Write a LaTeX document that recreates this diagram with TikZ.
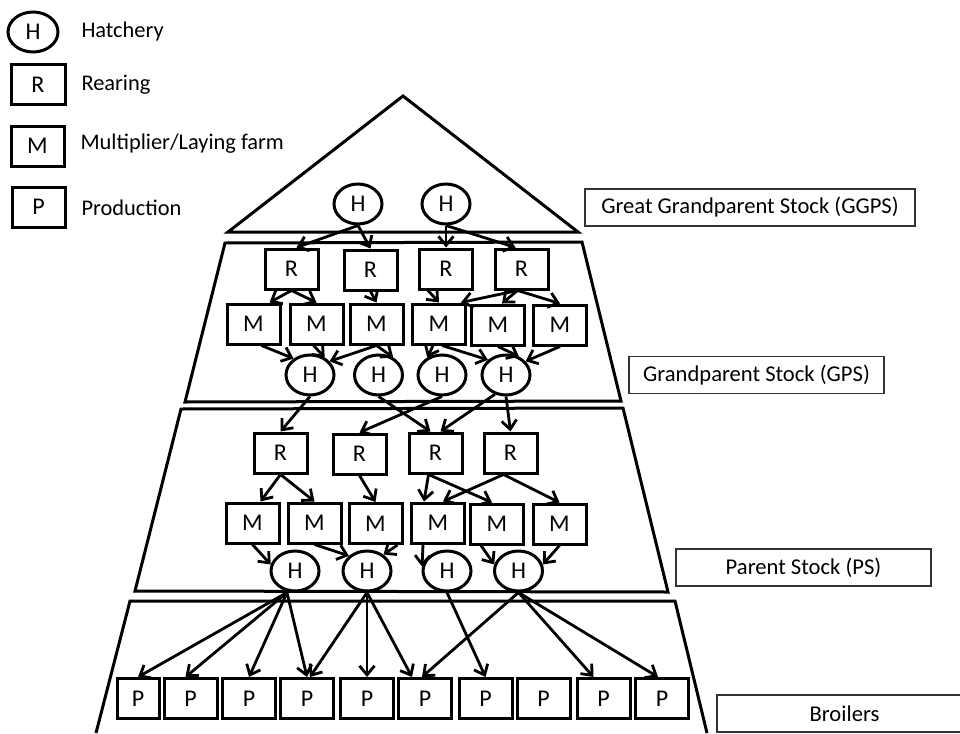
\documentclass[tikz,border=0pt]{standalone}
\usepackage{fontspec}
\setmainfont{Carlito}
\usetikzlibrary{shapes.geometric,arrows.meta}

\begin{document}
\begin{tikzpicture}[
  x=1pt, y=-1pt, line width=3pt,
  farm/.style={draw, rectangle, minimum width=53pt, minimum height=40pt,
               inner sep=0pt, font=\fontsize{24}{28}\selectfont},
  hatch/.style={draw, ellipse, minimum width=48pt, minimum height=40pt,
                inner sep=0pt, font=\fontsize{24}{28}\selectfont},
  tag/.style={draw=black!80, line width=1.2pt, minimum width=255pt,
              minimum height=37pt, inner sep=0pt, font=\fontsize{22.6}{26}\selectfont},
  legtxt/.style={anchor=base west, inner sep=0pt, font=\fontsize{22.4}{26}\selectfont},
  arr/.style={-{Straight Barb[length=9pt,width=15pt]}, line width=2.8pt}
]
\useasboundingbox (0,0) rectangle (960,733);
\clip (0,0) rectangle (960,733);

% legend
\node[hatch, minimum width=50pt] (legh) at (33,32) {H};
\node[farm, minimum width=54pt] (legr) at (38,85) {R};
\node[farm] (legm) at (37.5,146) {M};
\node[farm] (legp) at (38.5,207) {P};
\node[legtxt] (txth) at (80,38) {Hatchery};
\node[legtxt] (txtr) at (80,91) {Rearing};
\node[legtxt] (txtm) at (79,149) {Multiplier/Laying farm};
\node[legtxt] (txtp) at (80,215) {Production};

% tiers
\draw (403,96) -- (578,232) -- (228,232) -- cycle;
\draw (225,243) -- (582,242) -- (621,401) -- (185,402) -- cycle;
\draw (181,409) -- (623,408) -- (668,592) -- (135,591) -- cycle;
\draw (96,733) -- (130,601) -- (675,601) -- (707,733);

% great grandparents
\node[hatch] (gg1) at (358,204) {H};
\node[hatch] (gg2) at (446,204) {H};

% grandparents
\node[farm] (gr1) at (291.5,269) {R};
\node[farm] (gr2) at (370.5,270) {R};
\node[farm] (gr3) at (446,269) {R};
\node[farm] (gr4) at (521.5,269) {R};
\node[farm] (gm1) at (253.5,324) {M};
\node[farm] (gm2) at (316.5,324) {M};
\node[farm] (gm3) at (376.5,324) {M};
\node[farm] (gm4) at (439,324) {M};
\node[farm] (gm5) at (498,325) {M};
\node[farm] (gm6) at (560,325) {M};
\node[hatch] (gh1) at (310,375) {H};
\node[hatch] (gh2) at (378.5,375) {H};
\node[hatch] (gh3) at (442,375) {H};
\node[hatch] (gh4) at (506,375) {H};

% parents
\node[farm] (pr1) at (280.5,453) {R};
\node[farm] (pr2) at (359.5,454) {R};
\node[farm] (pr3) at (435.5,453) {R};
\node[farm] (pr4) at (510.5,453) {R};
\node[farm] (pm1) at (252.5,523) {M};
\node[farm] (pm2) at (314.5,523) {M};
\node[farm] (pm3) at (375.5,523.5) {M};
\node[farm] (pm4) at (438,523) {M};
\node[farm] (pm5) at (497,524) {M};
\node[farm] (pm6) at (559.5,524) {M};
\node[hatch] (ph1) at (295,571) {H};
\node[hatch] (ph2) at (367,571) {H};
\node[hatch] (ph3) at (447,571) {H};
\node[hatch] (ph4) at (518.5,571) {H};

% broilers
\node[farm, minimum width=42pt] (p1) at (138,698.5) {P};
\node[farm] (p2) at (190.5,698.5) {P};
\node[farm] (p3) at (249,698.5) {P};
\node[farm] (p4) at (307,698.5) {P};
\node[farm] (p5) at (367,698.5) {P};
\node[farm] (p6) at (425,698.5) {P};
\node[farm] (p7) at (485.5,698.5) {P};
\node[farm] (p8) at (543.5,698.5) {P};
\node[farm] (p9) at (603.5,698.5) {P};
\node[farm] (p10) at (662,698.5) {P};

% stage labels
\node[tag, minimum width=330pt] (lggps) at (750,207.5) {Great Grandparent Stock (GGPS)};
\node[tag] (lgps) at (756.5,375) {Grandparent Stock (GPS)};
\node[tag] (lps) at (803.5,567.5) {Parent Stock (PS)};
\node[tag] (lbro) at (844.5,713.5) {Broilers};

% GGPS -> GPS
\draw[arr] (gg1.south) -- ([xshift=5]gr1.north);
\draw[arr] (gg1.south) -- (gr2.north);
\draw[arr] (gg2.south) -- (gr3.north);
\draw[arr] (gg2.south) -- ([xshift=-6]gr4.north);

\draw[arr] (gr1.south) -- ([xshift=16]gm1.north);
\draw[arr] (gr1.south) -- (gm2.north);
\draw[arr] (gr2.south) -- (gm3.north);
\draw[arr] ([xshift=-18]gr3.south) -- (gm4.north);
\draw[arr] ([xshift=-4]gr4.south) -- ([xshift=22]gm4.north);
\draw[arr] ([xshift=-4]gr4.south) -- ([xshift=4]gm5.north);
\draw[arr] ([xshift=-4]gr4.south) -- (gm6.north);

\draw[arr] ([xshift=8]gm1.south) -- (gh1.135);
\draw[arr] ([xshift=-3]gm2.south) -- (gh1.50);
\draw[arr] (gm3.south) -- (gh1.35);
\draw[arr] (gm3.south) -- (gh2.50);
\draw[arr] ([xshift=-6]gm4.south) -- (gh3.130);
\draw[arr] ([xshift=3]gm4.south) -- (gh4.140);
\draw[arr] (gm5.south) -- (gh4.55);
\draw[arr] (gm6.south) -- (gh4.35);

% GPS -> PS
\draw[arr] (gh1.south) -- (pr1.north);
\draw[arr] (gh2.south) -- ([xshift=-5]pr3.north);
\draw[arr] (gh3.south) -- (pr2.north);
\draw[arr] (gh4.240) -- ([xshift=5]pr3.north);
\draw[arr] (gh4.south) -- (pr4.north);

\draw[arr] (pr1.south) -- ([xshift=8]pm1.north);
\draw[arr] (pr1.south) -- (pm2.north);
\draw[arr] (pr2.south) -- (pm3.north);
\draw[arr] ([xshift=-7]pr3.south) -- ([xshift=-14]pm4.north);
\draw[arr] ([xshift=-7]pr3.south) -- ([xshift=-5]pm5.north);
\draw[arr] ([xshift=-7]pr4.south) -- ([xshift=5]pm4.north);
\draw[arr] ([xshift=-7]pr4.south) -- (pm6.north);

\draw[arr] (pm1.south) -- (ph1.165);
\draw[arr] (pm2.south) -- (ph2.140);
\draw[arr] ([xshift=22]pm3.south) -- (ph2.45);
\draw[arr] ([xshift=-15]pm4.south) -- (ph3.170);
\draw[arr] ([xshift=-16]pm5.south) -- (ph4.165);
\draw[arr] (pm6.south) -- (ph4.15);

% PS -> broilers
\draw[arr] ([xshift=-8]ph1.south) -- (p1.north);
\draw[arr] ([xshift=-8]ph1.south) -- ([xshift=-5]p2.north);
\draw[arr] ([xshift=-8]ph1.south) -- (p3.north);
\draw[arr] ([xshift=-8]ph1.south) -- (p4.north);
\draw[arr] (ph2.south) -- ([xshift=3]p4.north);
\draw[arr] (ph2.south) -- (p5.north);
\draw[arr] (ph2.south) -- ([xshift=-13]p6.north);
\draw[arr] (ph3.south) -- (p7.north);
\draw[arr] (ph4.south) -- ([xshift=-3]p6.north);
\draw[arr] (ph4.south) -- ([xshift=-10]p9.north);
\draw[arr] (ph4.south) -- ([xshift=-4]p10.north);
\end{tikzpicture}
\end{document}
